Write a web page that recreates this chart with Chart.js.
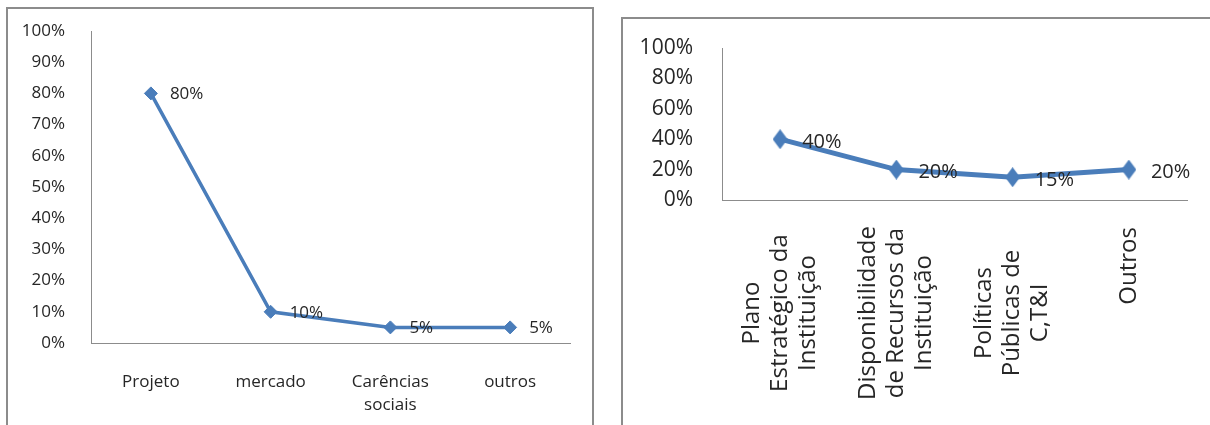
<!DOCTYPE html>
<html>
<head>
<meta charset="utf-8">
<script src="https://cdn.jsdelivr.net/npm/chart.js@4.4.1/dist/chart.umd.min.js"></script>
<style>
html, body { margin: 0; padding: 0; background: #fff; width: 1210px; height: 425px; overflow: hidden; position: relative; }
.box { position: absolute; border: 2px solid #8c8c8c; box-sizing: border-box; }
#boxA { left: 6px; top: 7px; width: 588px; height: 440px; }
#boxB { left: 621px; top: 17px; width: 620px; height: 440px; }
canvas { position: absolute; top: 0; }
#c1 { left: 0; }
#c2 { left: 600px; }
</style>
</head>
<body>
<div class="box" id="boxA"></div>
<div class="box" id="boxB"></div>
<canvas id="c1" width="600" height="425"></canvas>
<canvas id="c2" width="610" height="425"></canvas>
<script>
// left chart
const leftLabels = ["Projeto", "mercado", ["Carências", "sociais"], "outros"];
const leftValues = [80, 10, 5, 5];
const leftStep = 10;

// right chart
const rightLabels = [
  ["Plano", "Estratégico da", "Instituição"],
  ["Disponibilidade", "de Recursos da", "Instituição"],
  ["Políticas", "Públicas de", "C,T&I"],
  ["Outros"]
];
const rightValues = [40, 20, 15, 20];
const rightStep = 20;

const BLUE = "#4a7dba";
const TEXT = "#262626";
const AXIS = "#8c8c8c";
const FONT = '"Open Sans", sans-serif';

function valueLabels(font, dx, dy) {
  return {
    id: "valueLabels",
    afterDatasetsDraw(chart) {
      const ctx = chart.ctx;
      const meta = chart.getDatasetMeta(0);
      const data = chart.data.datasets[0].data;
      ctx.save();
      ctx.font = font;
      ctx.fillStyle = TEXT;
      ctx.textAlign = "left";
      ctx.textBaseline = "middle";
      meta.data.forEach((pt, i) => ctx.fillText(data[i] + "%", pt.x + dx, pt.y + dy));
      ctx.restore();
    }
  };
}

// rotated, centred category labels under the right chart
const rotatedLabels = {
  id: "rotatedLabels",
  afterDraw(chart) {
    const ctx = chart.ctx;
    const xs = chart.scales.x;
    const lh = 28;
    ctx.save();
    ctx.font = "24px " + FONT;
    ctx.fillStyle = TEXT;
    ctx.textAlign = "center";
    ctx.textBaseline = "middle";
    chart.data.labels.forEach((lines, i) => {
      const x = xs.getPixelForValue(i);
      const cy = lines.length > 1 ? xs.top + 113 : xs.top + 27 + ctx.measureText(lines[0]).width / 2;
      lines.forEach((t, k) => {
        ctx.save();
        ctx.translate(x + (k - (lines.length - 1) / 2) * lh, cy);
        ctx.rotate(-Math.PI / 2);
        ctx.fillText(t, 0, 0);
        ctx.restore();
      });
    });
    ctx.restore();
  }
};

function diamond(w, h, color) {
  const c = document.createElement("canvas");
  c.width = w; c.height = h;
  const g = c.getContext("2d");
  g.fillStyle = color;
  g.beginPath();
  g.moveTo(w / 2, 0); g.lineTo(w, h / 2); g.lineTo(w / 2, h); g.lineTo(0, h / 2);
  g.closePath();
  g.fill();
  return c;
}

Chart.defaults.animation = false;
Chart.defaults.plugins.legend.display = false;
Chart.defaults.plugins.tooltip.enabled = false;

new Chart(document.getElementById("c1"), {
  type: "line",
  data: {
    labels: leftLabels,
    datasets: [{
      data: leftValues,
      borderColor: BLUE,
      backgroundColor: BLUE,
      borderWidth: 3.5,
      pointStyle: "rectRot",
      pointRadius: 6.5,
      pointBorderWidth: 1,
      tension: 0
    }]
  },
  options: {
    responsive: false,
    layout: { padding: { left: 0, top: 31, right: 30, bottom: 0 } },
    scales: {
      x: {
        offset: true,
        grid: { display: false },
        border: { display: true, color: AXIS, width: 1 },
        ticks: { autoSkip: false, maxRotation: 0, padding: 20, color: TEXT,
                 font: { family: FONT, size: 17, lineHeight: 1.35 } },
        afterFit(s) { s.height = 82; }
      },
      y: {
        min: 0, max: 100,
        grid: { display: false },
        border: { display: true, color: AXIS, width: 1 },
        ticks: { stepSize: leftStep, autoSkip: false, padding: 18, color: TEXT,
                 font: { family: FONT, size: 17 },
                 callback: v => v + "%" },
        afterFit(s) { s.width = 91; }
      }
    }
  },
  plugins: [valueLabels("17px " + FONT, 19, 1)]
});

new Chart(document.getElementById("c2"), {
  type: "line",
  data: {
    labels: rightLabels,
    datasets: [{
      data: rightValues,
      borderColor: BLUE,
      backgroundColor: BLUE,
      borderWidth: 5,
      pointStyle: diamond(15, 20, BLUE),
      pointRadius: 8,
      tension: 0
    }]
  },
  options: {
    responsive: false,
    layout: { padding: { left: 0, top: 48, right: 23, bottom: 0 } },
    scales: {
      x: {
        offset: true,
        grid: { display: false },
        border: { display: true, color: AXIS, width: 1 },
        ticks: { display: false, autoSkip: false },
        afterFit(s) { s.height = 225; }
      },
      y: {
        min: 0, max: 100,
        grid: { display: false },
        border: { display: true, color: AXIS, width: 1 },
        ticks: { stepSize: rightStep, autoSkip: false, padding: 21, color: TEXT,
                 font: { family: FONT, size: 21, lineHeight: 1.0 },
                 callback: v => v + "%" },
        afterFit(s) { s.width = 122; }
      }
    }
  },
  plugins: [valueLabels("20px " + FONT, 22, 3), rotatedLabels]
});
</script>
</body>
</html>
